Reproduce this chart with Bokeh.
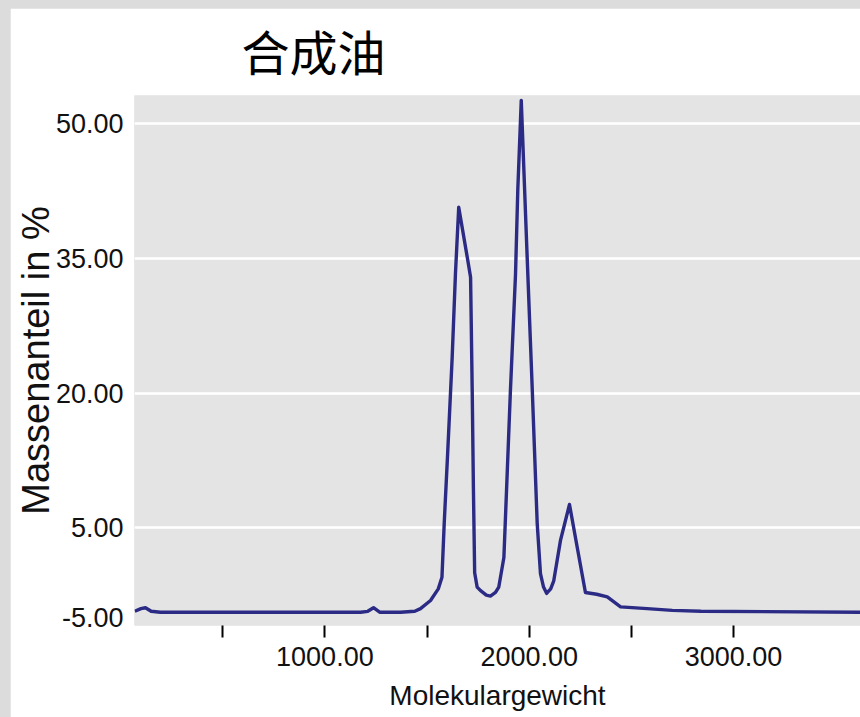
from bokeh.plotting import figure
from bokeh.models import (FixedTicker, PrintfTickFormatter, Range1d,
                          GlobalInlineStyleSheet)
from bokeh.embed import file_html
from bokeh.resources import INLINE

# ---------------- data ----------------
title_text = "合成油"
x_label = "Molekulargewicht"
y_label = "Massenanteil in %"

molecular_weight = [70, 100, 122, 150, 195, 640, 1175, 1210, 1238, 1268, 1370,
                    1440, 1468, 1517, 1555, 1573, 1584, 1600, 1623, 1639, 1655,
                    1697, 1713, 1721, 1727, 1733, 1745, 1762, 1790, 1810, 1835,
                    1851, 1876, 1889, 1908, 1933, 1944, 1961, 1990, 2015, 2039,
                    2055, 2070, 2085, 2105, 2120, 2153, 2197, 2235, 2275, 2330,
                    2382, 2447, 2577, 2700, 2840, 3650]
mass_percent = [-4.3, -4.0, -3.9, -4.3, -4.4, -4.4, -4.4, -4.3, -3.9, -4.4, -4.4,
                -4.3, -4.0, -3.1, -1.8, -0.5, 5.5, 12.9, 24.0, 33.3, 40.7,
                35.1, 32.9, 20.3, 9.2, 0.0, -1.6, -2.0, -2.5, -2.6, -2.2,
                -1.6, 1.7, 9.2, 20.3, 33.3, 42.6, 52.6, 35.1, 20.3, 5.5,
                -0.1, -1.6, -2.3, -1.8, -0.9, 3.6, 7.6, 2.8, -2.2, -2.4,
                -2.7, -3.8, -4.0, -4.2, -4.3, -4.4]

y_ticks = [-5, 5, 20, 35, 50]
y_grid_ticks = [5, 20, 35, 50]
x_major_ticks = [1000, 2000, 3000]
x_minor_ticks = [500, 1500, 2500]

# ---------------- figure ----------------
page_css = GlobalInlineStyleSheet(
    css="html, body { background-color: #dcdcdc; overflow: hidden; } "
        "body { margin: 8px 0 0 10px; padding: 0; }")

p = figure(width=850, height=709, output_backend="svg", toolbar_location=None,
           x_range=Range1d(68.5, 3621), y_range=Range1d(-5.88, 53.15),
           min_border_left=124, min_border_right=0, min_border_top=87,
           min_border_bottom=92, stylesheets=[page_css])

p.background_fill_color = "#e4e4e4"
p.border_fill_color = "white"
p.outline_line_color = None

p.title.text = title_text
p.title.text_font = "Liberation Serif, Noto Sans CJK SC"
p.title.text_font_size = "48px"
p.title.text_font_style = "normal"
p.title.text_color = "black"
p.title.align = "left"
p.title.offset = 107
p.title.standoff = 30

# x axis
xa = p.xaxis[0]
xa.ticker = FixedTicker(ticks=x_major_ticks, minor_ticks=x_minor_ticks)
xa.formatter = PrintfTickFormatter(format="%.2f")
xa.axis_line_color = None
xa.major_tick_in = 0
xa.major_tick_out = 12
xa.minor_tick_in = 0
xa.minor_tick_out = 12
xa.major_tick_line_color = "black"
xa.minor_tick_line_color = "black"
xa.major_tick_line_width = 2
xa.minor_tick_line_width = 2
xa.major_label_text_font = "Liberation Sans"
xa.major_label_text_font_size = "27px"
xa.major_label_text_color = "#111111"
xa.major_label_standoff = 9
xa.axis_label = x_label
xa.axis_label_text_font = "Liberation Sans"
xa.axis_label_text_font_size = "28px"
xa.axis_label_text_font_style = "normal"
xa.axis_label_text_color = "#111111"
xa.axis_label_standoff = 11

# y axis
ya = p.yaxis[0]
ya.ticker = FixedTicker(ticks=y_ticks)
ya.formatter = PrintfTickFormatter(format="%.2f")
ya.axis_line_color = None
ya.major_tick_in = 0
ya.major_tick_out = 0
ya.minor_tick_line_color = None
ya.major_label_text_font = "Liberation Sans"
ya.major_label_text_font_size = "27px"
ya.major_label_text_color = "#111111"
ya.major_label_standoff = 11
ya.axis_label = y_label
ya.axis_label_text_font = "Liberation Sans"
ya.axis_label_text_font_size = "38px"
ya.axis_label_text_font_style = "normal"
ya.axis_label_text_color = "#111111"
ya.axis_label_standoff = -4

p.xgrid.grid_line_color = None
p.ygrid.ticker = FixedTicker(ticks=y_grid_ticks)
p.ygrid.grid_line_color = "white"
p.ygrid.grid_line_width = 2.5

p.line(molecular_weight, mass_percent, line_color="#2b2b85", line_width=3.4,
       line_join="round")

open("out.html", "w").write(file_html(p, INLINE))
